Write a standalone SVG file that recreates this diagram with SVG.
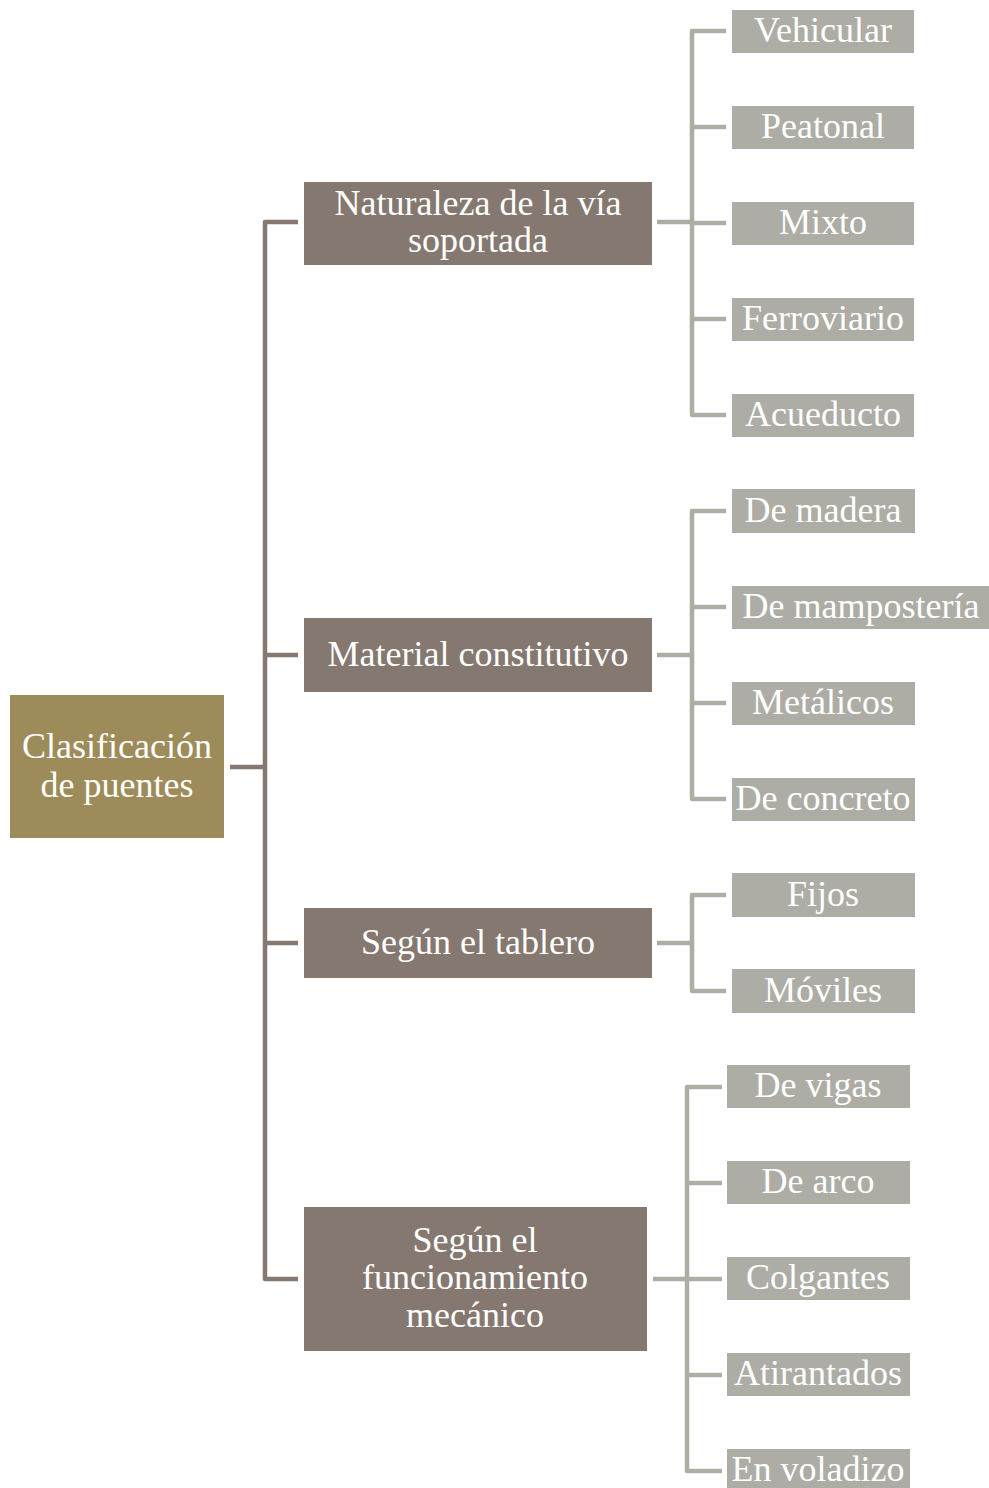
<svg xmlns="http://www.w3.org/2000/svg" width="989" height="1488" viewBox="0 0 989 1488">
<style>
text{font-family:"Liberation Serif","Times New Roman",serif;font-size:36px;fill:#ffffff;text-anchor:middle}
.root{fill:#9d8b5a}
.l1{fill:#857870}
.l2{fill:#adada6}
.cd{fill:none;stroke:#857870;stroke-width:4.5;stroke-linejoin:round}
.cg{fill:none;stroke:#adada6;stroke-width:4.5;stroke-linejoin:round}
</style>
<rect width="989" height="1488" fill="#ffffff"/>
<g id="connectors">
<path class="cd" d="M230,767 H265 M298,222 H265 V1279 H298 M265,655 H298 M265,943 H298"/>
<path class="cg" d="M657,222 H692 M726,31 H692 V415 H726 M692,127 H726 M692,223 H726 M692,319 H726"/>
<path class="cg" d="M657,655 H692 M726,511 H692 V799 H726 M692,607 H726 M692,703 H726"/>
<path class="cg" d="M657,943 H692 M726,895 H692 V991 H726"/>
<path class="cg" d="M653,1279 H687 M722,1087 H687 V1471 H722 M687,1183 H722 M687,1279 H722 M687,1375 H722"/>
</g>
<g id="root"><rect class="root" x="10" y="695" width="214" height="143"/><text x="117" y="758">Clasificación</text><text x="117" y="797">de puentes</text></g>
<g id="naturaleza"><rect class="l1" x="304" y="182" width="348" height="83"/><text x="478" y="215">Naturaleza de la vía</text><text x="478" y="252">soportada</text></g>
<g id="material"><rect class="l1" x="304" y="618" width="348" height="74"/><text x="478" y="666">Material constitutivo</text></g>
<g id="tablero"><rect class="l1" x="304" y="908" width="348" height="70"/><text x="478" y="954">Según el tablero</text></g>
<g id="funcionamiento"><rect class="l1" x="304" y="1207" width="343" height="144"/><text x="475" y="1252">Según el</text><text x="475" y="1289">funcionamiento</text><text x="475" y="1327">mecánico</text></g>
<g id="vehicular"><rect class="l2" x="732" y="10" width="182" height="43"/><text x="823" y="42">Vehicular</text></g>
<g id="peatonal"><rect class="l2" x="732" y="106" width="182" height="43"/><text x="823" y="138">Peatonal</text></g>
<g id="mixto"><rect class="l2" x="732" y="202" width="182" height="43"/><text x="823" y="234">Mixto</text></g>
<g id="ferroviario"><rect class="l2" x="732" y="298" width="182" height="43"/><text x="823" y="330">Ferroviario</text></g>
<g id="acueducto"><rect class="l2" x="732" y="394" width="182" height="43"/><text x="823" y="426">Acueducto</text></g>
<g id="madera"><rect class="l2" x="732" y="489" width="183" height="44"/><text x="823" y="522">De madera</text></g>
<g id="mamposteria"><rect class="l2" x="732" y="586" width="257" height="43"/><text x="861" y="618">De mampostería</text></g>
<g id="metalicos"><rect class="l2" x="732" y="682" width="183" height="43"/><text x="823" y="714">Metálicos</text></g>
<g id="concreto"><rect class="l2" x="732" y="778" width="183" height="43"/><text x="823" y="810">De concreto</text></g>
<g id="fijos"><rect class="l2" x="732" y="873" width="183" height="44"/><text x="823" y="906">Fijos</text></g>
<g id="moviles"><rect class="l2" x="732" y="969" width="183" height="44"/><text x="823" y="1002">Móviles</text></g>
<g id="vigas"><rect class="l2" x="727" y="1065" width="183" height="43"/><text x="818" y="1097">De vigas</text></g>
<g id="arco"><rect class="l2" x="727" y="1161" width="183" height="43"/><text x="818" y="1193">De arco</text></g>
<g id="colgantes"><rect class="l2" x="727" y="1257" width="183" height="43"/><text x="818" y="1289">Colgantes</text></g>
<g id="atirantados"><rect class="l2" x="727" y="1353" width="183" height="43"/><text x="818" y="1385">Atirantados</text></g>
<g id="voladizo"><rect class="l2" x="727" y="1449" width="183" height="43"/><text x="818" y="1481">En voladizo</text></g>
</svg>
